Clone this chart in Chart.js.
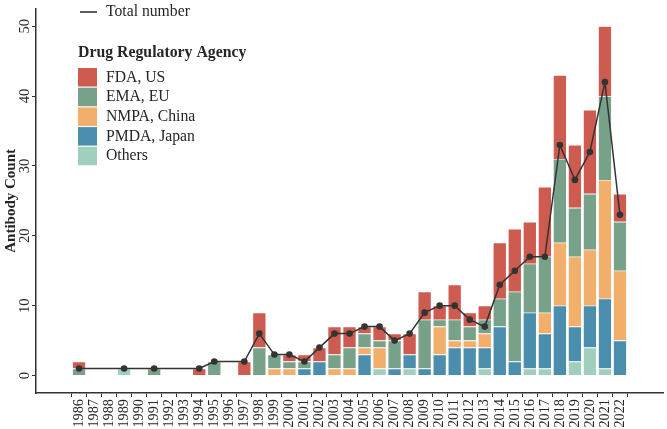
<!DOCTYPE html>
<html>
<head>
<meta charset="utf-8">
<script src="https://cdn.jsdelivr.net/npm/chart.js@4.4.1/dist/chart.umd.min.js"></script>
<style>
  body { margin: 0; background: #fff; }
</style>
</head>
<body>
<canvas id="myChart" width="667" height="429"></canvas>
<script>
// years on the x axis
const years = [1986, 1987, 1988, 1989, 1990, 1991, 1992, 1993, 1994, 1995,
  1996, 1997, 1998, 1999, 2000, 2001, 2002, 2003, 2004, 2005,
  2006, 2007, 2008, 2009, 2010, 2011, 2012, 2013, 2014, 2015,
  2016, 2017, 2018, 2019, 2020, 2021, 2022];

// approvals per agency (same order as years)
const fdaUS = [1, 0, 0, 0, 0, 0, 0, 0, 1, 0, 0, 2, 5, 0, 1, 1, 2, 4, 3, 1,
  2, 1, 3, 4, 2, 5, 2, 2, 8, 9, 6, 10, 12, 9, 12, 10, 4];
const emaEU = [1, 0, 0, 0, 0, 1, 0, 0, 0, 2, 0, 0, 4, 2, 1, 1, 0, 2, 3, 2,
  1, 4, 0, 7, 1, 3, 2, 2, 4, 10, 7, 8, 12, 7, 8, 12, 7];
const nmpaChina = [0, 0, 0, 0, 0, 0, 0, 0, 0, 0, 0, 0, 0, 1, 1, 0, 0, 1, 1, 1,
  3, 0, 0, 0, 4, 1, 1, 2, 0, 0, 0, 3, 9, 10, 8, 17, 10];
const pmdaJapan = [0, 0, 0, 0, 0, 0, 0, 0, 0, 0, 0, 0, 0, 0, 0, 1, 2, 0, 0, 3,
  0, 1, 2, 1, 3, 4, 4, 3, 7, 2, 8, 5, 10, 5, 6, 10, 5];
const others = [0, 0, 0, 1, 0, 0, 0, 0, 0, 0, 0, 0, 0, 0, 0, 0, 0, 0, 0, 0,
  1, 0, 1, 0, 0, 0, 0, 1, 0, 0, 1, 1, 0, 2, 4, 1, 0];

// total number line (only years that have a point)
const totalYears = [1986, 1989, 1991, 1994, 1995, 1997, 1998, 1999, 2000, 2001,
  2002, 2003, 2004, 2005, 2006, 2007, 2008, 2009, 2010, 2011,
  2012, 2013, 2014, 2015, 2016, 2017, 2018, 2019, 2020, 2021, 2022];
const totalNumber = [1, 1, 1, 1, 2, 2, 6, 3, 3, 2,
  4, 6, 6, 7, 7, 5, 6, 9, 10, 10,
  8, 7, 13, 15, 17, 17, 33, 28, 32, 42, 23];

const yTicks = [0, 10, 20, 30, 40, 50];

const serif = "'Liberation Serif', 'DejaVu Serif', serif";
const ink = "#262626";

const agencies = [
  { label: "FDA, US", data: fdaUS, color: "#CD5B4F" },
  { label: "EMA, EU", data: emaEU, color: "#78A189" },
  { label: "NMPA, China", data: nmpaChina, color: "#F2AE6B" },
  { label: "PMDA, Japan", data: pmdaJapan, color: "#4B8DAC" },
  { label: "Others", data: others, color: "#A0D0BD" },
];

// bottom of the stack first
const barSets = agencies.slice().reverse().map(a => ({
  type: "bar",
  label: a.label,
  data: years.map((y, i) => ({ x: y, y: a.data[i] ? a.data[i] : null })),
  backgroundColor: a.color,
  borderColor: "#ffffff",
  borderWidth: 0.6,
  barPercentage: 0.9,
  categoryPercentage: 1,
  order: 1,
}));

const lineSet = {
  type: "line",
  label: "Total number",
  data: totalYears.map((y, i) => ({ x: y, y: totalNumber[i] })),
  borderColor: "#333333",
  borderWidth: 1.5,
  pointRadius: 3.3,
  pointBackgroundColor: "#333333",
  pointBorderWidth: 0,
  order: 0,
};

// legend in the top-left of the panel
const legendPlugin = {
  id: "agencyLegend",
  afterDraw(chart) {
    const ctx = chart.ctx;
    ctx.save();
    ctx.fillStyle = ink;
    ctx.textBaseline = "middle";
    ctx.textAlign = "left";
    ctx.strokeStyle = "#262626";
    ctx.lineWidth = 1.5;
    ctx.beginPath();
    ctx.moveTo(80, 12);
    ctx.lineTo(97, 12);
    ctx.stroke();
    ctx.font = "15.7px " + serif;
    ctx.fillText("Total number", 106, 12);

    ctx.font = "bold 15.8px " + serif;
    ctx.fillText("Drug Regulatory Agency", 78, 53);

    ctx.font = "15.7px " + serif;
    agencies.forEach((a, i) => {
      const top = 68 + i * 19.7;
      ctx.fillStyle = a.color;
      ctx.fillRect(78, top, 19, 18.5);
      ctx.fillStyle = ink;
      ctx.fillText(a.label, 106, top + 9.5);
    });
    ctx.restore();
  },
};

new Chart(document.getElementById("myChart"), {
  data: { datasets: barSets.concat([lineSet]) },
  options: {
    responsive: false,
    animation: false,
    devicePixelRatio: 1,
    layout: { padding: { top: 2, right: 2, left: 0, bottom: 0 } },
    plugins: { legend: { display: false }, tooltip: { enabled: false } },
    scales: {
      x: {
        type: "linear",
        stacked: true,
        min: 1983.7,
        max: 2024.3,
        afterBuildTicks: s => { s.ticks = years.map(v => ({ value: v })); },
        afterFit: s => { s.height = 36; },
        grid: { display: true, drawOnChartArea: false, drawTicks: true, tickLength: 4, color: "#333333" },
        border: { display: true, color: "#333333", width: 1.5 },
        ticks: {
          autoSkip: false,
          minRotation: 90,
          maxRotation: 90,
          padding: 2,
          color: ink,
          font: { family: serif, size: 14.3 },
          callback: v => String(v),
        },
      },
      y: {
        stacked: true,
        min: -2.5,
        max: 52.5,
        afterBuildTicks: s => { s.ticks = yTicks.map(v => ({ value: v })); },
        afterFit: s => { s.width = 36; },
        grid: { display: true, drawOnChartArea: false, drawTicks: true, tickLength: 4, color: "#333333" },
        border: { display: true, color: "#333333", width: 1.5 },
        ticks: {
          minRotation: 90,
          maxRotation: 90,
          crossAlign: "center",
          padding: 0,
          color: ink,
          font: { family: serif, size: 14.5 },
          callback: v => String(v),
        },
        title: {
          display: true,
          text: "Antibody Count",
          color: ink,
          font: { family: serif, size: 15, weight: "bold" },
          padding: { top: 2, bottom: 0 },
        },
      },
    },
  },
  plugins: [legendPlugin],
});
</script>
</body>
</html>
